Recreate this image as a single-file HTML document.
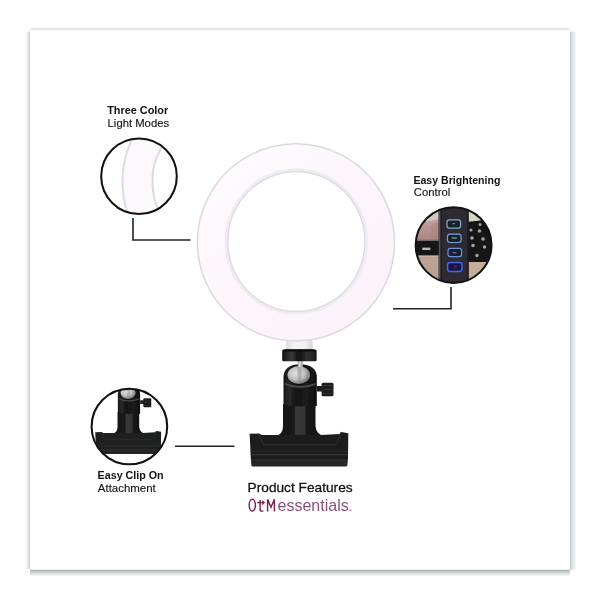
<!DOCTYPE html>
<html><head><meta charset="utf-8">
<style>
html,body{margin:0;padding:0;background:#fff;width:600px;height:600px;overflow:hidden}
svg{display:block;position:absolute;left:0;top:0;will-change:transform}
text{font-family:"Liberation Sans",sans-serif}
</style></head>
<body>
<svg width="600" height="600" viewBox="0 0 600 600">
<defs>
  <linearGradient id="shL" x1="0" x2="1" y1="0" y2="0">
    <stop offset="0" stop-color="#fff"/><stop offset="0.5" stop-color="#eceeee"/><stop offset="1" stop-color="#cdd1d1"/>
  </linearGradient>
  <linearGradient id="shR" x1="0" x2="1" y1="0" y2="0">
    <stop offset="0" stop-color="#c4c9cc"/><stop offset="0.25" stop-color="#d6dbde"/><stop offset="0.6" stop-color="#e4e9ec"/><stop offset="1" stop-color="#fafcfe"/>
  </linearGradient>
  <linearGradient id="shT" x1="0" x2="0" y1="0" y2="1">
    <stop offset="0" stop-color="#fff"/><stop offset="0.35" stop-color="#f2f2f2"/><stop offset="0.75" stop-color="#e2e2e2"/><stop offset="1" stop-color="#f4f4f4"/>
  </linearGradient>
  <linearGradient id="shB" x1="0" x2="0" y1="0" y2="1">
    <stop offset="0" stop-color="#a2acac"/><stop offset="0.3" stop-color="#c2caca"/><stop offset="0.65" stop-color="#e2e8e8"/><stop offset="1" stop-color="#fcfdfd"/>
  </linearGradient>
  <radialGradient id="ball" cx="0.4" cy="0.4" r="0.65">
    <stop offset="0" stop-color="#e2e2e2"/><stop offset="0.55" stop-color="#c0c0c0"/><stop offset="1" stop-color="#6a6a6a"/>
  </radialGradient>
  <linearGradient id="cyl" x1="0" x2="1" y1="0" y2="0">
    <stop offset="0" stop-color="#161616"/><stop offset="0.18" stop-color="#2a2a2a"/><stop offset="0.35" stop-color="#141414"/><stop offset="0.7" stop-color="#1c1c1c"/><stop offset="1" stop-color="#0e0e0e"/>
  </linearGradient>
  <linearGradient id="skin1" x1="0" x2="0" y1="0" y2="1">
    <stop offset="0" stop-color="#d2ccc4"/><stop offset="0.45" stop-color="#c4a8a2"/><stop offset="0.75" stop-color="#b89290"/><stop offset="1" stop-color="#a88884"/>
  </linearGradient>
  <linearGradient id="nut" x1="0" x2="1" y1="0" y2="0">
    <stop offset="0" stop-color="#111"/><stop offset="0.12" stop-color="#262626"/><stop offset="0.28" stop-color="#3a3a3a"/><stop offset="0.42" stop-color="#181818"/><stop offset="0.55" stop-color="#141414"/><stop offset="0.72" stop-color="#303030"/><stop offset="0.88" stop-color="#262626"/><stop offset="1" stop-color="#0e0e0e"/>
  </linearGradient>
  <linearGradient id="post" x1="0" x2="1" y1="0" y2="0">
    <stop offset="0" stop-color="#141414"/><stop offset="0.38" stop-color="#1a1a1a"/><stop offset="0.41" stop-color="#383838"/><stop offset="0.6" stop-color="#343434"/><stop offset="0.63" stop-color="#181818"/><stop offset="1" stop-color="#101010"/>
  </linearGradient>
  <linearGradient id="collar" x1="0" x2="1" y1="0" y2="0">
    <stop offset="0" stop-color="#dcdcdc"/><stop offset="0.3" stop-color="#f4f4f4"/><stop offset="0.7" stop-color="#f2f2f2"/><stop offset="1" stop-color="#d8d8d8"/>
  </linearGradient>
  <filter id="blur2" x="-5%" y="-5%" width="110%" height="110%"><feGaussianBlur stdDeviation="0.6"/></filter>
  <filter id="blur3" x="-50%" y="-50%" width="200%" height="200%"><feGaussianBlur stdDeviation="0.7"/></filter>
  <filter id="blur4" x="-10%" y="-10%" width="120%" height="120%"><feGaussianBlur stdDeviation="0.3"/></filter>
  <filter id="blur1" x="-5%" y="-5%" width="110%" height="110%"><feGaussianBlur stdDeviation="0.45"/></filter>
  <linearGradient id="ringfill" x1="0" y1="0" x2="1" y2="1">
    <stop offset="0" stop-color="#fefbfd"/><stop offset="0.5" stop-color="#fcf6fb"/><stop offset="1" stop-color="#fbf0f9"/>
  </linearGradient>
  <clipPath id="c1"><circle cx="139" cy="176.2" r="37.5"/></clipPath>
  <clipPath id="c2"><circle cx="453.6" cy="245.1" r="37.6"/></clipPath>
  <clipPath id="c3"><circle cx="129.4" cy="426.5" r="37.5"/></clipPath>

  <g id="stand">
    <rect x="286" y="334" width="26.5" height="17" fill="url(#collar)"/>
    <!-- housing -->
    <path d="M283.5 406 L283.5 377 C283.5 368.5 290 364.3 300 364.3 C310 364.3 316.8 368.5 316.8 377 L316.8 406 Q300 410 283.5 406 Z" fill="url(#cyl)"/>
    <ellipse cx="299" cy="375" rx="12.2" ry="9.8" fill="#0c0c0c"/>
    <ellipse cx="298.8" cy="375" rx="11.4" ry="9" fill="url(#ball)"/>
    <rect x="297.5" y="367" width="4" height="16" fill="#8a8a8a" opacity="0.45"/>
    <path d="M285 383 Q300 389 315.5 383 L315.5 385 Q300 391 285 385 Z" fill="#4a4a4a"/>
    <rect x="297.7" y="360" width="5" height="7" fill="#b0b0b0"/>
    <rect x="299" y="360" width="1.6" height="7" fill="#dedede"/>
    <!-- nut -->
    <rect x="282.2" y="349.6" width="34.4" height="11.6" rx="1.5" fill="url(#nut)"/>
    <path d="M283 350 L286 349.2 L312.5 349.2 L315.5 350 L315.5 351.5 L283 351.5 Z" fill="#0c0c0c"/>
    <!-- knob -->
    <rect x="317" y="386" width="5.5" height="5.5" fill="#1e1e1e"/>
    <rect x="321.6" y="382.8" width="11.9" height="13.5" rx="1.5" fill="#1a1a1a"/>
    <rect x="322.5" y="385" width="10" height="1" fill="#333"/>
    <rect x="322.5" y="389" width="10" height="1" fill="#333"/>
    <rect x="322.5" y="393" width="10" height="1" fill="#333"/>
    <!-- post -->
    <path d="M283 404 Q300 409 315.5 404 L315.5 426 Q316 434 324 436 L276 436 Q283 434 283 426 Z" fill="url(#post)"/>
    <!-- base -->
    <path d="M249.6 433.7 L258.8 433.5 L262 435 L279 435 L321 435 L339.4 434 L341.3 431.9 L348.3 433.3 L348 458 L347.2 465.3 Q347 466.6 345.5 466.6 L253 466.6 Q251.6 466.6 251.5 465.1 L250.8 458 Z" fill="#1e1f1f"/>
    <rect x="251.6" y="460.4" width="95.6" height="5.6" fill="#252727"/>
    <path d="M258.8 433.7 L263.3 444.7 L336.2 444.7 L341.3 431.9" fill="none" stroke="#2f2f2f" stroke-width="1"/>
    <rect x="250.5" y="451" width="97.5" height="0.9" fill="#2a2a2a"/>
    <rect x="250.6" y="454" width="97.4" height="1.2" fill="#333"/>
    <rect x="250.8" y="459.4" width="97" height="1.2" fill="#333"/>
  </g>
</defs>

<!-- panel shadow -->
<rect x="25" y="31.8" width="5" height="537.5" fill="url(#shL)"/>
<rect x="569.8" y="31.6" width="6.4" height="538.4" fill="url(#shR)"/>
<rect x="31.8" y="26.6" width="536.5" height="3.6" fill="url(#shT)"/>
<rect x="30" y="569.8" width="539.8" height="6.8" fill="url(#shB)"/>
<path d="M29.3 32 Q29.5 29.3 32 28.8" fill="none" stroke="#eceeee" stroke-width="1.6"/>
<path d="M568 28.5 Q570.5 29.5 570.8 31.8" fill="none" stroke="#eef0f2" stroke-width="1.6"/>

<!-- stand -->
<use href="#stand" filter="url(#blur4)"/>

<!-- ring light -->
<g filter="url(#blur2)">
<path d="M296 143.7 A98.6 98.6 0 1 1 295.9 143.7 Z M296.3 171.4 A68.7 70.1 0 1 0 296.4 171.4 Z" fill="url(#ringfill)" fill-rule="evenodd" stroke="#dcd8e2" stroke-width="1.5"/>
<ellipse cx="296.3" cy="241.5" rx="70.4" ry="71.8" fill="none" stroke="#f0eaf4" stroke-width="2.4"/>
</g>

<!-- connector lines -->
<g stroke="#222" stroke-width="1.6" fill="none">
  <polyline points="133,218 133,240 190.5,240"/>
  <polyline points="451,287 451,308.7 393,308.7"/>
  <line x1="175" y1="446.3" x2="234.5" y2="446.3"/>
</g>

<!-- circle 1: ring segment -->
<g clip-path="url(#c1)">
  <rect x="95" y="130" width="90" height="90" fill="#fff"/>
  <g filter="url(#blur1)">
  <circle cx="220" cy="181.5" r="97.6" fill="#fcf8fc" stroke="#dedae4" stroke-width="2"/>
  <circle cx="220" cy="181.5" r="67.6" fill="#fff" stroke="#dfdae2" stroke-width="2"/>
  </g>
</g>
<circle cx="139" cy="176.2" r="37.8" fill="none" stroke="#111" stroke-width="2.05"/>

<!-- circle 2: control -->
<g clip-path="url(#c2)">
 <g filter="url(#blur1)">
  <rect x="405" y="195" width="100" height="100" fill="#b39a96"/>
  <rect x="405" y="195" width="36" height="46" fill="url(#skin1)"/>
  <path d="M413 232 L425 222 L438.5 219 L438.5 200 L413 200 Z" fill="#d4cec6" opacity="0.85"/>
  <path d="M430 226 L436 222 L438.5 222 L438.5 241 L432 241 Z" fill="#a88282" opacity="0.5"/>
  <rect x="405" y="256" width="36" height="40" fill="#bca294"/>
  <rect x="405" y="240.8" width="36" height="15" fill="#131313"/>
  <rect x="405" y="239.5" width="36" height="1.6" fill="#6a6a6a" opacity="0.6"/>
  <rect x="422.3" y="247.6" width="8" height="2.4" fill="#b8b8b8"/><rect x="413" y="255.3" width="26" height="1.2" fill="#d8c8c0" opacity="0.7"/>
  <rect x="468" y="195" width="37" height="26" fill="#d4d6c4"/>
  <path d="M468 222 L480 220.5 L492 221 L505 224 L505 262 L468 262 Z" fill="#141414"/>
  <path d="M468 262 L505 262 L505 296 L468 296 Z" fill="#c4ae9a"/>
  <g fill="#a4a4a4" filter="url(#blur3)">
    <circle cx="480" cy="224.5" r="1.5"/><circle cx="471" cy="230" r="1.6"/><circle cx="479.5" cy="231" r="1.8"/>
    <circle cx="472" cy="238" r="1.8"/><circle cx="483" cy="239" r="1.8"/><circle cx="473" cy="245.5" r="1.8"/>
    <circle cx="484.5" cy="247" r="1.7"/><circle cx="477" cy="255.5" r="1.7"/>
  </g>
  <rect x="438.5" y="195" width="29.6" height="100" fill="#2d2c32"/>
  <rect x="439" y="195" width="1.3" height="100" fill="#55556a"/><rect x="440.8" y="195" width="1.2" height="100" fill="#1e1e24"/>
  <rect x="467" y="195" width="1.8" height="100" fill="#1c1c1e"/>
  <g stroke-width="1.2">
  <rect x="447" y="219.8" width="13.6" height="8.4" rx="2.4" fill="#18202c" stroke="#88acd0"/>
  <rect x="447.5" y="234.1" width="13.6" height="8.4" rx="2.4" fill="#18202e" stroke="#7aa2d8"/>
  <rect x="448" y="248.3" width="13.6" height="8.4" rx="2.4" fill="#161c30" stroke="#6a90e0"/>
  <rect x="447.6" y="262.6" width="14.4" height="8.8" rx="2.4" fill="#18184a" stroke="#4a60f0" stroke-width="1.5"/>
  </g>
  <g fill="#b0c0d0" opacity="0.7">
   <rect x="452.3" y="223.2" width="3" height="1"/>
   <rect x="451.8" y="237.3" width="5" height="1.4"/>
   <rect x="452.5" y="252.3" width="4" height="1"/>
  </g>
  <rect x="454" y="265.5" width="2.5" height="2" fill="#8a3040" opacity="0.7"/>
 </g>
</g>
<circle cx="453.6" cy="245.1" r="37.9" fill="none" stroke="#111" stroke-width="2.05"/>

<!-- circle 3: clip -->
<g clip-path="url(#c3)">
  <rect x="85" y="380" width="90" height="90" fill="#fff"/>
  <use href="#stand" transform="translate(128.1 431) scale(0.668) translate(-298.85 -432)"/>
</g>
<circle cx="129.4" cy="426.5" r="37.8" fill="none" stroke="#111" stroke-width="2.05"/>

<!-- text -->
<g fill="#111">
<text x="107.2" y="114" font-size="10" font-weight="bold" textLength="61" lengthAdjust="spacingAndGlyphs">Three Color</text>
<text x="107.6" y="127.3" font-size="10" textLength="61.5" lengthAdjust="spacingAndGlyphs" stroke="#111" stroke-width="0.12">Light Modes</text>
<text x="413.4" y="183.5" font-size="10" font-weight="bold" textLength="87" lengthAdjust="spacingAndGlyphs">Easy Brightening</text>
<text x="413.8" y="196.2" font-size="10" textLength="36.5" lengthAdjust="spacingAndGlyphs" stroke="#111" stroke-width="0.12">Control</text>
<text x="97.6" y="479.1" font-size="10" font-weight="bold" textLength="66" lengthAdjust="spacingAndGlyphs">Easy Clip On</text>
<text x="97.8" y="492.2" font-size="10" textLength="58" lengthAdjust="spacingAndGlyphs" stroke="#111" stroke-width="0.12">Attachment</text>
<text x="247.6" y="492" font-size="13.6" textLength="105" lengthAdjust="spacingAndGlyphs" stroke="#111" stroke-width="0.28">Product Features</text>
</g>

<!-- OtM logo -->
<g fill="none" stroke="#82204c" stroke-width="1.45">
  <ellipse cx="252.3" cy="505.2" rx="3.1" ry="5.9"/>
  <path d="M260.1 500 V509.2 Q260.1 511.1 262 511.1 L263.4 511.1"/>
  <path d="M257.3 502.6 H264"/>
  <path d="M262 500.6 L264.3 502.6 L262 504.6" stroke-width="1.2"/>
  <path d="M267.6 511.6 V499.4 L271 507.2 L274.4 499.4 V511.6"/>
</g>
<text x="277.5" y="511.1" font-size="17" fill="#8a5078" textLength="71.3" lengthAdjust="spacingAndGlyphs">essentials</text>
<rect x="348.5" y="509.6" width="1.2" height="1.2" fill="#9a6a88"/><rect x="350.3" y="509.6" width="1.2" height="1.2" fill="#9a6a88"/>
</svg>
</body></html>
